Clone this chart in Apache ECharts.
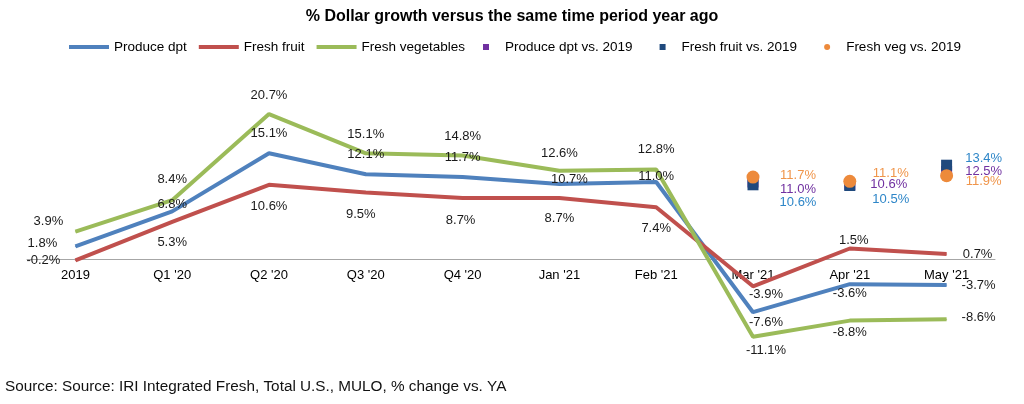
<!DOCTYPE html>
<html>
<head>
<meta charset="utf-8">
<script src="https://cdn.jsdelivr.net/npm/echarts@6/dist/echarts.min.js"></script>
<style>
  html, body { margin: 0; padding: 0; background: #fff; }
  #chart { width: 1024px; height: 404px; }
</style>
</head>
<body>
<div id="chart"></div>
<script>
// 数据
const categories = ['2019', "Q1 '20", "Q2 '20", "Q3 '20", "Q4 '20", "Jan '21", "Feb '21", "Mar '21", "Apr '21", "May '21"]
const produceDpt = [1.8, 6.8, 15.1, 12.1, 11.7, 10.7, 11.0, -7.6, -3.6, -3.7]
const freshFruit = [-0.2, 5.3, 10.6, 9.5, 8.7, 8.7, 7.4, -3.9, 1.5, 0.7]
const freshVeg = [3.9, 8.4, 20.7, 15.1, 14.8, 12.6, 12.8, -11.1, -8.8, -8.6]

const vs2019Months = ["Mar '21", "Apr '21", "May '21"]
const produceVs2019 = [11.0, 10.6, 12.5]
const fruitVs2019 = [10.6, 10.5, 13.4]
const vegVs2019 = [11.7, 11.1, 11.9]

// 标签偏移（相对于数据点中心）
const produceLabelOffset = [[-33, -3], [0, -7], [0, -20], [0, -20], [0, -20], [10, -5], [0, -6], [13, 10], [0, 9], [32, 1]]
const fruitLabelOffset = [[-32, 0], [0, 21], [0, 22], [-5, 22], [-2, 22], [0, 20], [0, 21], [13, 8], [4, -8], [31, 0]]
const vegLabelOffset = [[-27, -10], [0, -21], [0, -19], [0, -19], [0, -19], [0, -17], [0, -20], [13, 14], [0, 12], [32, -2]]
const produceVsOffset = [[45, 7], [39, 0], [37, 0]]
const fruitVsOffset = [[45, 18], [41, 14], [37, -7]]
const vegVsOffset = [[45, -2], [41, -8], [37, 6]]

// y 轴范围
const yMin = -15
const yMax = 25

const FONT = 'Liberation Sans, Arial, sans-serif'
const GRID_TOP = 84
const GRID_BOTTOM = 40
const pct = (v) => v.toFixed(1) + '%'

const lineData = (values, offsets) => values.map((v, i) => ({
  value: v,
  label: { offset: offsets[i] }
}))

const scatterData = (values, offsets) => values.map((v, i) => ({
  value: [vs2019Months[i], v],
  label: { offset: offsets[i] }
}))

const lineSeries = (name, color, values, offsets) => ({
  name: name,
  type: 'line',
  data: lineData(values, offsets),
  smooth: false,
  symbol: 'circle',
  symbolSize: 1,
  showSymbol: true,
  itemStyle: { color: color },
  lineStyle: { width: 4, color: color },
  label: {
    show: true,
    position: 'inside',
    color: '#1a1a1a',
    fontSize: 13,
    fontFamily: FONT,
    formatter: (p) => pct(p.value)
  },
  emphasis: { disabled: true }
})

const scatterSeries = (name, color, labelColor, symbol, size, values, offsets) => ({
  name: name,
  type: 'scatter',
  data: scatterData(values, offsets),
  symbol: symbol,
  symbolSize: size,
  itemStyle: { color: color, opacity: 1 },
  label: {
    show: true,
    position: 'inside',
    color: labelColor,
    fontSize: 13,
    fontFamily: FONT,
    formatter: (p) => pct(p.value[1])
  },
  emphasis: { disabled: true }
})

const chart = echarts.init(document.getElementById('chart'))

// 让 x 轴（含标签）落在 0 处
const plotHeight = 404 - GRID_TOP - GRID_BOTTOM
const zeroFromBottom = plotHeight * (0 - yMin) / (yMax - yMin)

const option = {
  animation: false,
  backgroundColor: '#fff',
  title: {
    text: '% Dollar growth versus the same time period year ago',
    left: 'center',
    top: 4,
    textStyle: { fontSize: 16, fontWeight: 'bold', color: '#000', fontFamily: FONT }
  },
  legend: [
    {
      data: [
        { name: 'Produce dpt', icon: 'rect' },
        { name: 'Fresh fruit', icon: 'rect' },
        { name: 'Fresh vegetables', icon: 'rect' }
      ],
      left: 64,
      top: 35,
      itemWidth: 40,
      itemHeight: 4,
      itemGap: 12,
      textStyle: { fontSize: 13.5, color: '#000', fontFamily: FONT }
    },
    {
      data: [
        { name: 'Produce dpt vs. 2019', icon: 'rect' },
        { name: 'Fresh fruit vs. 2019', icon: 'rect' },
        { name: 'Fresh veg vs. 2019', icon: 'circle' }
      ],
      left: 478,
      top: 35,
      itemWidth: 6,
      itemHeight: 6,
      itemGap: 27,
      textStyle: { fontSize: 13.5, color: '#000', fontFamily: FONT, padding: [0, 0, 0, 11] }
    }
  ],
  grid: { left: 27, right: 29, top: GRID_TOP, bottom: GRID_BOTTOM },
  xAxis: {
    type: 'category',
    data: categories,
    boundaryGap: true,
    offset: -zeroFromBottom,
    axisLine: { onZero: false, lineStyle: { color: '#a6a6a6', width: 1 } },
    axisTick: { show: false },
    axisLabel: { color: '#000', fontSize: 13, fontFamily: FONT, interval: 0, margin: 10 },
    splitLine: { show: false }
  },
  yAxis: {
    type: 'value',
    min: yMin,
    max: yMax,
    show: false,
    splitLine: { show: false }
  },
  series: [
    lineSeries('Produce dpt', '#4f81bd', produceDpt, produceLabelOffset),
    lineSeries('Fresh fruit', '#c0504d', freshFruit, fruitLabelOffset),
    lineSeries('Fresh vegetables', '#9bbb59', freshVeg, vegLabelOffset),
    scatterSeries('Produce dpt vs. 2019', '#7030a0', '#7030a0', 'rect', 11, produceVs2019, produceVsOffset),
    scatterSeries('Fresh fruit vs. 2019', '#1f497d', '#2e86c8', 'rect', 11, fruitVs2019, fruitVsOffset),
    scatterSeries('Fresh veg vs. 2019', '#ed8a3b', '#f0954a', 'circle', 13, vegVs2019, vegVsOffset)
  ],
  graphic: [
    {
      type: 'text',
      left: 5,
      top: 379,
      style: {
        text: 'Source: Source: IRI Integrated Fresh, Total U.S., MULO, % change vs. YA',
        fill: '#111',
        fontSize: 15.3,
        fontFamily: FONT
      }
    }
  ]
}

chart.setOption(option)
</script>
</body>
</html>
